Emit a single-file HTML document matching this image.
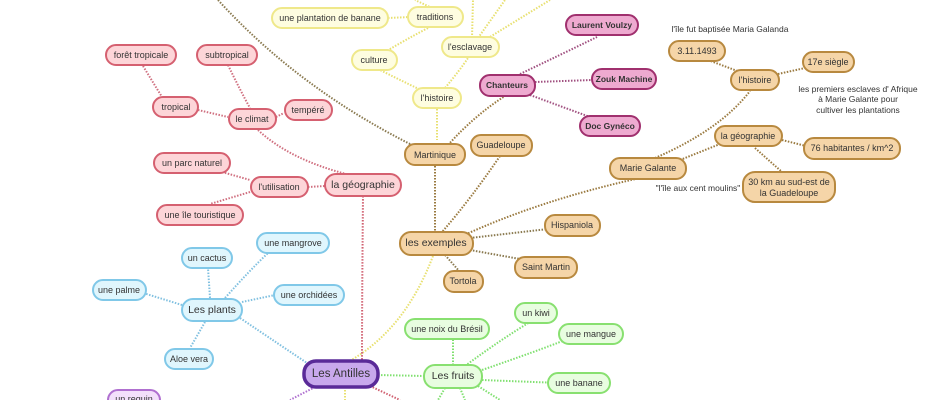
<!DOCTYPE html>
<html><head><meta charset="utf-8"><style>
html,body{margin:0;padding:0;background:#fff;width:940px;height:400px;overflow:hidden}
svg text{font-family:"Liberation Sans",sans-serif;text-anchor:middle;dominant-baseline:central}
</style></head><body>
<svg width="940" height="400" viewBox="0 0 940 400" xmlns="http://www.w3.org/2000/svg">
<g fill="none" stroke-width="2" stroke-dasharray="1.5 1.5">
<path d="M218 0 Q300 90 418 148" stroke="#8a7a50"/>
<path d="M435 166 L435 232" stroke="#9a7a40"/>
<path d="M500 156 Q470 200 442 232" stroke="#9a7a40"/>
<path d="M448 145 Q475 115 505 96" stroke="#9a7a40"/>
<path d="M460 237 Q540 200 640 178" stroke="#9a7a40"/>
<path d="M470 238 L548 229" stroke="#8a7a50"/>
<path d="M470 250 L520 259" stroke="#8a7a50"/>
<path d="M445 255 L460 272" stroke="#8a7a50"/>
<path d="M655 158 Q720 130 750 91" stroke="#9a7a40"/>
<path d="M680 160 L720 144" stroke="#9a7a40"/>
<path d="M708 60 L740 72" stroke="#9a7a40"/>
<path d="M778 74 L805 68" stroke="#9a7a40"/>
<path d="M782 140 L806 146" stroke="#9a7a40"/>
<path d="M755 148 L782 172" stroke="#9a7a40"/>
<path d="M520 74 Q560 55 597 37" stroke="#a05080"/>
<path d="M535 82 L592 80" stroke="#a05080"/>
<path d="M530 95 L590 117" stroke="#a05080"/>
<path d="M437 88 L437 140" stroke="#e8e070"/>
<path d="M425 92 Q400 80 380 70" stroke="#e8e070"/>
<path d="M445 88 Q460 70 468 58" stroke="#e8e070"/>
<path d="M388 18 L410 17" stroke="#e8e070"/>
<path d="M428 28 Q405 40 385 52" stroke="#e8e070"/>
<path d="M432 8 L415 0" stroke="#e8e070"/>
<path d="M472 38 L473 0 M478 38 L505 0 M485 40 L550 0" stroke="#e8e070"/>
<path d="M433 256 Q405 330 348 362" stroke="#e8e070"/>
<path d="M345 387 L345 400" stroke="#e8e070"/>
<path d="M363 196 Q362 300 362 362" stroke="#d06070"/>
<path d="M258 130 Q290 160 350 175" stroke="#d07080"/>
<path d="M198 110 L228 117" stroke="#d07080"/>
<path d="M276 117 L284 113" stroke="#d07080"/>
<path d="M228 65 Q240 90 250 108" stroke="#d07080"/>
<path d="M143 66 L162 97" stroke="#d07080"/>
<path d="M308 187 L325 186" stroke="#d07080"/>
<path d="M222 172 L250 180" stroke="#d07080"/>
<path d="M250 192 L210 204" stroke="#d07080"/>
<path d="M370 386 L400 400" stroke="#d06070"/>
<path d="M242 302 L275 295" stroke="#80c0e0"/>
<path d="M225 298 Q250 270 268 253" stroke="#80c0e0"/>
<path d="M210 298 L208 268" stroke="#80c0e0"/>
<path d="M182 305 L140 292" stroke="#80c0e0"/>
<path d="M205 322 L190 348" stroke="#80c0e0"/>
<path d="M240 318 Q280 345 310 365" stroke="#80c0e0"/>
<path d="M315 387 L290 400" stroke="#b070d0"/>
<path d="M378 375 L424 376" stroke="#80e070"/>
<path d="M453 365 L453 340" stroke="#80e070"/>
<path d="M465 366 Q500 340 530 322" stroke="#80e070"/>
<path d="M482 370 Q540 350 565 340" stroke="#80e070"/>
<path d="M482 380 L560 383" stroke="#80e070"/>
<path d="M445 388 L438 400 M460 388 L465 400 M478 386 L500 400" stroke="#80e070"/>
</g>
<g stroke-width="2">
<g fill="#fefde0" stroke="#efe88a">
<rect x="272" y="8" width="116" height="20" rx="10"/>
<rect x="408" y="7" width="55" height="20" rx="10"/>
<rect x="352" y="50" width="45" height="20" rx="10"/>
<rect x="442" y="37" width="57" height="20" rx="10"/>
<rect x="413" y="88" width="48" height="20" rx="10"/>
</g>
<g fill="#f5d5a8" stroke="#b8893f">
<rect x="405" y="144" width="60" height="21" rx="10"/>
<rect x="471" y="135" width="61" height="21" rx="10"/>
<rect x="400" y="232" width="73" height="23" rx="11"/>
<rect x="545" y="215" width="55" height="21" rx="10"/>
<rect x="515" y="257" width="62" height="21" rx="10"/>
<rect x="444" y="271" width="39" height="21" rx="10"/>
<rect x="669" y="41" width="56" height="20" rx="10"/>
<rect x="731" y="70" width="48" height="20" rx="10"/>
<rect x="803" y="52" width="51" height="20" rx="10"/>
<rect x="715" y="126" width="67" height="20" rx="10"/>
<rect x="804" y="138" width="96" height="21" rx="10"/>
<rect x="743" y="172" width="92" height="30" rx="12"/>
<rect x="610" y="158" width="76" height="21" rx="10"/>
</g>
<g fill="#eeaad0" stroke="#a0306e">
<rect x="566" y="15" width="72" height="20" rx="10"/>
<rect x="592" y="69" width="64" height="20" rx="10"/>
<rect x="480" y="75" width="55" height="21" rx="10"/>
<rect x="580" y="116" width="60" height="20" rx="10"/>
</g>
<g fill="#fdd5d8" stroke="#d56070">
<rect x="106" y="45" width="70" height="20" rx="10"/>
<rect x="197" y="45" width="60" height="20" rx="10"/>
<rect x="153" y="97" width="45" height="20" rx="10"/>
<rect x="229" y="109" width="47" height="20" rx="10"/>
<rect x="285" y="100" width="47" height="20" rx="10"/>
<rect x="154" y="153" width="76" height="20" rx="10"/>
<rect x="251" y="177" width="57" height="20" rx="10"/>
<rect x="325" y="174" width="76" height="22" rx="11"/>
<rect x="157" y="205" width="86" height="20" rx="10"/>
</g>
<g fill="#e0f6fd" stroke="#80c8e8">
<rect x="257" y="233" width="72" height="20" rx="10"/>
<rect x="182" y="248" width="50" height="20" rx="10"/>
<rect x="93" y="280" width="53" height="20" rx="10"/>
<rect x="274" y="285" width="70" height="20" rx="10"/>
<rect x="182" y="299" width="60" height="22" rx="11"/>
<rect x="165" y="349" width="48" height="20" rx="10"/>
</g>
<g fill="#e8fde0" stroke="#88e070">
<rect x="405" y="319" width="84" height="20" rx="10"/>
<rect x="515" y="303" width="42" height="20" rx="10"/>
<rect x="559" y="324" width="64" height="20" rx="10"/>
<rect x="548" y="373" width="62" height="20" rx="10"/>
<rect x="424" y="365" width="58" height="23" rx="11"/>
</g>
<rect x="108" y="390" width="52" height="22" rx="10" fill="#f3e0fb" stroke="#b070d0"/>
<rect x="304" y="361" width="74" height="26" rx="12" fill="#c8a8ec" stroke="#5a2a98" stroke-width="3.5"/>
</g>
<g font-size="9" fill="#333">
<text x="330" y="18">une plantation de banane</text>
<text x="435" y="17">traditions</text>
<text x="374" y="60">culture</text>
<text x="470" y="47">l'esclavage</text>
<text x="437" y="98">l'histoire</text>
<text x="435" y="155">Martinique</text>
<text x="501" y="145">Guadeloupe</text>
<text x="436" y="243" font-size="10.5">les exemples</text>
<text x="572" y="225">Hispaniola</text>
<text x="546" y="267">Saint Martin</text>
<text x="463" y="281">Tortola</text>
<text x="697" y="51">3.11.1493</text>
<text x="755" y="80">l'histoire</text>
<text x="828" y="62">17e siègle</text>
<text x="748" y="136">la géographie</text>
<text x="852" y="148">76 habitantes / km^2</text>
<text x="789" y="182">30 km au sud-est de</text>
<text x="789" y="193">la Guadeloupe</text>
<text x="648" y="168">Marie Galante</text>
<text x="730" y="29" font-size="8.5">l'île fut baptisée Maria Galanda</text>
<text x="858" y="89" font-size="8.5">les premiers esclaves d' Afrique</text>
<text x="858" y="99" font-size="8.5">à Marie Galante pour</text>
<text x="858" y="110" font-size="8.5">cultiver les plantations</text>
<text x="698" y="188" font-size="8.5">"l'île aux cent moulins"</text>
<text x="602" y="25" font-weight="bold" font-size="8.5">Laurent Voulzy</text>
<text x="624" y="79" font-weight="bold" font-size="8.5">Zouk Machine</text>
<text x="507" y="85" font-weight="bold" font-size="8.5">Chanteurs</text>
<text x="610" y="126" font-weight="bold" font-size="8.5">Doc Gynéco</text>
<text x="141" y="55">forêt tropicale</text>
<text x="227" y="55">subtropical</text>
<text x="176" y="107">tropical</text>
<text x="252" y="119">le climat</text>
<text x="308" y="110">tempéré</text>
<text x="192" y="163">un parc naturel</text>
<text x="279" y="187">l'utilisation</text>
<text x="363" y="185" font-size="10.5">la géographie</text>
<text x="200" y="215">une île touristique</text>
<text x="293" y="243">une mangrove</text>
<text x="207" y="258">un cactus</text>
<text x="119" y="290">une palme</text>
<text x="309" y="295">une orchidées</text>
<text x="212" y="310" font-size="10.5">Les plants</text>
<text x="189" y="359">Aloe vera</text>
<text x="447" y="329">une noix du Brésil</text>
<text x="536" y="313">un kiwi</text>
<text x="591" y="334">une mangue</text>
<text x="579" y="383">une banane</text>
<text x="453" y="376" font-size="10.5">Les fruits</text>
<text x="134" y="399">un requin</text>
<text x="341" y="374" font-size="11.5">Les Antilles</text>
</g>
</svg>
</body></html>
